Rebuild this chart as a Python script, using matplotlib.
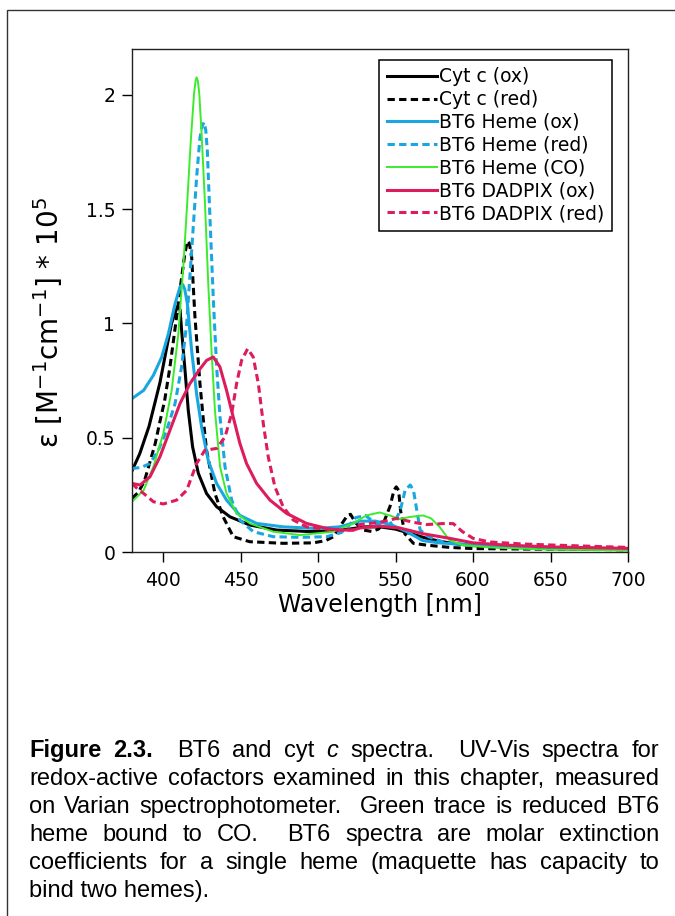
import matplotlib
matplotlib.use('Agg')
import matplotlib.pyplot as plt
from matplotlib.patches import Rectangle

# =============================================================================
# Spectra (wavelength in nm, epsilon in 1e5 M^-1 cm^-1)
# =============================================================================

cytc_ox_wl = [380, 385, 391, 398, 402, 405.5, 408, 409.5, 411, 412, 414.2, 416.3,
              419.1, 422.8, 428.1, 434.6, 443.2, 456, 473.3, 492.6, 500, 510, 520,
              530, 540, 550, 560, 570, 580, 590, 600, 625, 650, 675, 700]
cytc_ox_eps = [0.355, 0.43, 0.55, 0.74, 0.88, 1.00, 1.05, 1.075, 1.06, 0.97, 0.795,
               0.62, 0.46, 0.344, 0.256, 0.198, 0.154, 0.118, 0.096, 0.09, 0.09,
               0.095, 0.10, 0.11, 0.11, 0.10, 0.08, 0.06, 0.045, 0.035, 0.028,
               0.02, 0.015, 0.012, 0.01]

cytc_red_wl = [380, 384, 388, 391, 395, 398, 401, 404.5, 408.8, 412, 414, 415.7,
               417, 418.5, 420.6, 423.8, 426, 428.1, 433.5, 438.8, 445.3, 456,
               477.5, 497, 505, 510, 515, 519, 521, 524, 529, 534.6, 539, 542.2,
               546.5, 549, 550.5, 552, 553.3, 556, 561.5, 570, 585, 600, 650, 700]
cytc_red_eps = [0.235, 0.26, 0.31, 0.38, 0.475, 0.57, 0.66, 0.81, 1.03, 1.20, 1.30,
                1.36, 1.35, 1.29, 1.03, 0.74, 0.58, 0.445, 0.256, 0.154, 0.067,
                0.045, 0.038, 0.04, 0.05, 0.067, 0.12, 0.16, 0.165, 0.13, 0.096,
                0.09, 0.10, 0.126, 0.20, 0.27, 0.285, 0.27, 0.18, 0.08, 0.038,
                0.03, 0.02, 0.015, 0.012, 0.01]

heme_ox_wl = [380, 387.5, 393.8, 399.2, 403.5, 407.8, 411, 412.7, 414, 415.7, 418.5,
              421.7, 424.9, 429.2, 434.6, 441, 449.6, 460.4, 477.5, 499, 514, 527,
              537, 547, 557, 567.5, 578, 600, 650, 700]
heme_ox_eps = [0.671, 0.707, 0.773, 0.853, 0.955, 1.086, 1.16, 1.17, 1.15, 1.087,
               0.88, 0.69, 0.547, 0.40, 0.30, 0.227, 0.16, 0.125, 0.11, 0.103,
               0.11, 0.135, 0.135, 0.12, 0.09, 0.05, 0.04, 0.03, 0.02, 0.012]

heme_red_wl = [380, 386, 391.6, 397, 402.4, 407.8, 412, 415.3, 418.5, 421.7, 423.8,
               425.3, 426.5, 427.6, 428.6, 430.3, 432.5, 434.6, 436.8, 440, 444.3,
               449.6, 458.2, 471.1, 488.4, 505.6, 515, 520.6, 524.2, 530.6, 537,
               545.6, 550, 553, 556.2, 559.5, 561.6, 563.8, 565.9, 571.3, 582, 600,
               650, 700]
heme_red_eps = [0.365, 0.37, 0.387, 0.445, 0.533, 0.65, 0.81, 1.0, 1.32, 1.64, 1.81,
                1.865, 1.879, 1.845, 1.755, 1.46, 1.10, 0.81, 0.59, 0.373, 0.227,
                0.14, 0.089, 0.067, 0.064, 0.067, 0.085, 0.12, 0.15, 0.16, 0.125,
                0.12, 0.14, 0.18, 0.27, 0.293, 0.27, 0.18, 0.096, 0.067, 0.04, 0.03,
                0.02, 0.012]

heme_co_wl = [380, 387.5, 393.8, 400.2, 405.6, 409.9, 413.1, 415.7, 417.8, 420,
              421, 421.7, 422.5, 423.4, 424.9, 427, 429.2, 431.3, 433.5, 436.8, 441,
              447.5, 456, 471.1, 488.4, 509.8, 522.6, 531.2, 539.8, 546.2, 552.7,
              559, 567.7, 573, 578.4, 584.8, 593.4, 610.6, 650, 700]
heme_co_eps = [0.22, 0.27, 0.373, 0.518, 0.707, 0.955, 1.246, 1.537, 1.785, 2.003,
               2.06, 2.076, 2.06, 2.005, 1.83, 1.537, 1.173, 0.88, 0.62, 0.373,
               0.256, 0.169, 0.125, 0.089, 0.074, 0.089, 0.125, 0.16, 0.173, 0.16,
               0.144, 0.153, 0.16, 0.147, 0.11, 0.052, 0.03, 0.02, 0.01, 0.008]

dadpix_ox_wl = [380, 385.2, 391.6, 398, 404.5, 411, 417.4, 423.8, 428.1, 432.4,
                436.7, 441, 445.3, 449.6, 453.9, 460.4, 469, 479.7, 492.6, 505.6,
                514, 522.8, 527, 539.8, 552.7, 567.7, 584.8, 600, 621.5, 650, 700]
dadpix_ox_eps = [0.30, 0.293, 0.329, 0.416, 0.533, 0.65, 0.737, 0.80, 0.838, 0.853,
                 0.81, 0.707, 0.59, 0.475, 0.387, 0.30, 0.227, 0.169, 0.125, 0.103,
                 0.096, 0.096, 0.105, 0.113, 0.105, 0.08, 0.06, 0.04, 0.03, 0.022,
                 0.016]

dadpix_red_wl = [380, 383, 387.5, 393.8, 400.2, 408.8, 415.3, 421.7, 427, 434.6,
                 440, 444.3, 447.5, 450.7, 454.6, 458.2, 461.5, 464.7, 467.9, 472.2,
                 477.5, 484, 492.6, 509.8, 522.8, 527, 539.8, 550.8, 561.5, 570, 582,
                 587.3, 593, 600, 610.6, 632, 653, 700]
dadpix_red_eps = [0.30, 0.28, 0.256, 0.22, 0.21, 0.227, 0.27, 0.387, 0.445, 0.453,
                  0.503, 0.605, 0.737, 0.838, 0.889, 0.853, 0.737, 0.562, 0.416,
                  0.285, 0.198, 0.14, 0.11, 0.096, 0.096, 0.12, 0.13, 0.147, 0.13,
                  0.12, 0.125, 0.124, 0.09, 0.06, 0.044, 0.035, 0.03, 0.02]

series_labels = ['Cyt c (ox)', 'Cyt c (red)', 'BT6 Heme (ox)', 'BT6 Heme (red)',
                 'BT6 Heme (CO)', 'BT6 DADPIX (ox)', 'BT6 DADPIX (red)']

x_ticks = [400, 450, 500, 550, 600, 650, 700]
y_ticks = [0, 0.5, 1, 1.5, 2]
y_tick_labels = ['0', '0.5', '1', '1.5', '2']

caption_lines = [
    "Figure 2.3.  BT6 and cyt c spectra.  UV-Vis spectra for",
    "redox-active cofactors examined in this chapter, measured",
    "on Varian spectrophotometer.  Green trace is reduced BT6",
    "heme bound to CO.  BT6 spectra are molar extinction",
    "coefficients for a single heme (maquette has capacity to",
    "bind two hemes).",
]

# =============================================================================
# Figure
# =============================================================================

W, H = 675, 916
fig = plt.figure(figsize=(W / 100, H / 100), dpi=100)
fig.patch.set_facecolor('white')

# page frame around chart + caption
fig.patches.append(Rectangle((7 / W, -0.05), 1.2, 1 - 10 / H + 0.05,
                             transform=fig.transFigure, fill=False,
                             edgecolor='#333333', linewidth=1.0))

ax = fig.add_axes([132 / W, 1 - 552 / H, 496 / W, 503 / H])

black, blue, green, crimson = '#000000', '#1AA7E1', '#3BEB2C', '#DD1C5C'
dash = (0, (2.4, 1.4))
styles = [
    (cytc_ox_wl, cytc_ox_eps, black, '-', 2.2),
    (cytc_red_wl, cytc_red_eps, black, dash, 2.2),
    (heme_ox_wl, heme_ox_eps, blue, '-', 2.2),
    (heme_red_wl, heme_red_eps, blue, dash, 2.2),
    (heme_co_wl, heme_co_eps, green, '-', 1.4),
    (dadpix_ox_wl, dadpix_ox_eps, crimson, '-', 2.2),
    (dadpix_red_wl, dadpix_red_eps, crimson, dash, 2.2),
]
for (wl, eps, col, ls, lw), lab in zip(styles, series_labels):
    ax.plot(wl, eps, color=col, linestyle=ls, linewidth=lw, label=lab,
            solid_joinstyle='round')

ax.set_xlim(380, 700)
ax.set_ylim(0, 2.2)
ax.set_xticks(x_ticks)
ax.set_yticks(y_ticks)
ax.set_yticklabels(y_tick_labels)
ax.tick_params(direction='out', length=7, width=1.0, labelsize=13.5, pad=5)
ax.tick_params(axis='x', pad=7)
for sp in ax.spines.values():
    sp.set_linewidth(1.0)
    sp.set_color('#222222')

ax.set_xlabel('Wavelength [nm]', fontsize=17, labelpad=2)
ax.set_ylabel('ε [M$^{-1}$cm$^{-1}$] * 10$^{5}$', fontsize=20)
ax.yaxis.set_label_coords(-0.135, 0.457)

leg = ax.legend(loc='upper right', bbox_to_anchor=((612 - 132) / 496, (552 - 60) / 503),
                borderaxespad=0, fontsize=13.5, handlelength=2.7,
                handletextpad=0.1, labelspacing=0.2, borderpad=0.4,
                fancybox=False, framealpha=1, edgecolor='black')
leg.get_frame().set_linewidth(1.1)

# =============================================================================
# Caption, justified by hand
# =============================================================================

cap_family = ['Liberation Sans']
cap_size = 17
x_left, x_right = 29 / W, 659 / W
renderer = fig.canvas.get_renderer()

for i, line in enumerate(caption_lines):
    y = 1 - (757 + 28 * i) / H
    if i == len(caption_lines) - 1:
        fig.text(x_left, y, line, fontsize=cap_size, family=cap_family,
                 va='baseline', ha='left')
        continue
    tokens = []
    units = 0
    for w in line.split(' '):
        if w == '':
            units += 1
            continue
        tokens.append([w, units if tokens else 0])
        units = 1
    artists = []
    total = 0
    for k, (w, u) in enumerate(tokens):
        weight = 'bold' if (i == 0 and k < 2) else 'normal'
        style = 'italic' if (i == 0 and w == 'c') else 'normal'
        t = fig.text(0, y, w, fontsize=cap_size, family=cap_family,
                     weight=weight, style=style, va='baseline', ha='left')
        wd = t.get_window_extent(renderer).width / fig.bbox.width
        artists.append((t, wd, u))
        total += wd
    gap = (x_right - x_left - total) / sum(u for _, _, u in artists)
    x = x_left
    for t, wd, u in artists:
        x += u * gap
        t.set_x(x)
        x += wd

fig.savefig('out.png', dpi=100)
